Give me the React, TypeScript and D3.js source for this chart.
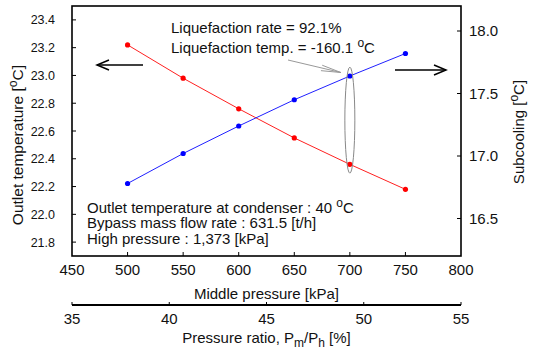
import React from "react";
import * as d3 from "d3";

const middlePressure = [500, 550, 600, 650, 700, 750];
const outletTemp = [23.22, 22.98, 22.76, 22.55, 22.36, 22.18];
const subcooling = [16.78, 17.02, 17.24, 17.45, 17.64, 17.82];
const xTicks = [450, 500, 550, 600, 650, 700, 750, 800];
const leftTicks = [21.8, 22.0, 22.2, 22.4, 22.6, 22.8, 23.0, 23.2, 23.4];
const rightTicks = [16.5, 17.0, 17.5, 18.0];
const ratioTicks = [35, 40, 45, 50, 55];

const W = 536, H = 351;
const L = 72, R = 461, T = 6, B = 256;
const FONT = "'Liberation Sans', Arial, sans-serif";

export default function App() {
  const x = d3.scaleLinear().domain([450, 800]).range([L, R]);
  const yL = d3.scaleLinear().domain([21.7, 23.5]).range([B, T]);
  const yR = d3.scaleLinear().domain([16.2, 18.2]).range([B, T]);
  const xr = d3.scaleLinear().domain([35, 55]).range([L, R]);

  const lineL = d3.line<number>().x((_, i) => x(middlePressure[i])).y((d) => yL(d));
  const lineR = d3.line<number>().x((_, i) => x(middlePressure[i])).y((d) => yR(d));

  // superscript "o" followed by "C" and rest
  const degC = (size: number, rest: string) => (
    <>
      <tspan dy={-size * 0.4} fontSize={size * 0.8}>o</tspan>
      <tspan dy={size * 0.4}>{"C" + rest}</tspan>
    </>
  );

  const ex = x(700);
  const ellipseCy = (yR(17.64) + yL(22.36)) / 2;

  // pointer arrow
  const p0 = [288, 60];
  const tip = [ex - 9, 72.5];
  const ang = Math.atan2(tip[1] - p0[1], tip[0] - p0[0]);
  const hl = 20, ha = (8 * Math.PI) / 180;
  const h1 = [tip[0] - hl * Math.cos(ang + ha), tip[1] - hl * Math.sin(ang + ha)];
  const h2 = [tip[0] - hl * Math.cos(ang - ha), tip[1] - hl * Math.sin(ang - ha)];

  return (
    <svg width={W} height={H} style={{ position: "absolute", left: 0, top: 0, background: "#fff" }} fontFamily={FONT}>
      <rect x={0} y={0} width={W} height={H} fill="#fff" />
      {/* lines */}
      <path d={lineL(outletTemp) || ""} fill="none" stroke="#ff2020" strokeWidth={1} />
      <path d={lineR(subcooling) || ""} fill="none" stroke="#2020ff" strokeWidth={1} />
      {outletTemp.map((v, i) => (
        <circle key={"r" + i} cx={x(middlePressure[i])} cy={yL(v)} r={2.6} fill="#ff0000" />
      ))}
      {subcooling.map((v, i) => (
        <circle key={"b" + i} cx={x(middlePressure[i])} cy={yR(v)} r={2.6} fill="#0000ff" />
      ))}

      {/* frame */}
      <rect x={L} y={T} width={R - L} height={B - T} fill="none" stroke="#000" strokeWidth={1.6} />

      {/* ticks inward */}
      {xTicks.slice(1, -1).map((t) => (
        <line key={"xt" + t} x1={x(t)} x2={x(t)} y1={B} y2={B - 4} stroke="#000" strokeWidth={1} />
      ))}
      {leftTicks.map((t) => (
        <line key={"lt" + t} x1={L} x2={L + 4} y1={yL(t)} y2={yL(t)} stroke="#000" strokeWidth={1} />
      ))}
      {rightTicks.map((t) => (
        <line key={"rt" + t} x1={R} x2={R - 4} y1={yR(t)} y2={yR(t)} stroke="#000" strokeWidth={1} />
      ))}

      {/* tick labels */}
      {xTicks.map((t) => (
        <text key={"xl" + t} x={x(t)} y={275} fontSize={15} textAnchor="middle" fill="#111">{t}</text>
      ))}
      {leftTicks.map((t) => (
        <text key={"ll" + t} x={55} y={yL(t) + 4.5} fontSize={12.5} textAnchor="end" fill="#111">{t.toFixed(1)}</text>
      ))}
      {rightTicks.map((t) => (
        <text key={"rl" + t} x={469} y={yR(t) + 5} fontSize={15} textAnchor="start" fill="#111">{t.toFixed(1)}</text>
      ))}

      {/* axis titles */}
      <text x={266.5} y={299} fontSize={15} textAnchor="middle" fill="#111">Middle pressure [kPa]</text>
      <text transform="translate(23,145) rotate(-90)" fontSize={15.5} textAnchor="middle" fill="#111">
        Outlet temperature [{degC(15.5, "]")}
      </text>
      <text transform="translate(524,132) rotate(-90)" fontSize={15} textAnchor="middle" fill="#111">
        Subcooling [{degC(15, "]")}
      </text>

      {/* secondary axis */}
      <line x1={L} x2={R} y1={305} y2={305} stroke="#000" strokeWidth={2} />
      {ratioTicks.map((t) => (
        <line key={"st" + t} x1={xr(t)} x2={xr(t)} y1={305} y2={302} stroke="#000" strokeWidth={1} />
      ))}
      {ratioTicks.map((t) => (
        <text key={"sl" + t} x={xr(t)} y={324} fontSize={15} textAnchor="middle" fill="#111">{t}</text>
      ))}
      <text x={266.5} y={343} fontSize={15} textAnchor="middle" fill="#111">
        Pressure ratio, P<tspan dy={4} fontSize={12}>m</tspan><tspan dy={-4}>/P</tspan><tspan dy={4} fontSize={12}>h</tspan><tspan dy={-4}> [%]</tspan>
      </text>

      {/* annotations */}
      <text x={171} y={33} fontSize={15} fill="#111">Liquefaction rate = 92.1%</text>
      <text x={171} y={53} fontSize={15} fill="#111">Liquefaction temp. = -160.1 {degC(15, "")}</text>
      <text x={87} y={212.5} fontSize={15} fill="#111">Outlet temperature at condenser : 40 {degC(15, "")}</text>
      <text x={87} y={228} fontSize={15} fill="#111">Bypass mass flow rate : 631.5 [t/h]</text>
      <text x={87} y={243.5} fontSize={15} fill="#111">High pressure : 1,373 [kPa]</text>

      {/* ellipse and pointer */}
      <ellipse cx={ex} cy={ellipseCy} rx={5} ry={53} fill="none" stroke="#888" strokeWidth={1} />
      <line x1={p0[0]} y1={p0[1]} x2={tip[0]} y2={tip[1]} stroke="#999" strokeWidth={1} />
      <polyline points={`${h1[0]},${h1[1]} ${tip[0]},${tip[1]} ${h2[0]},${h2[1]}`} fill="none" stroke="#999" strokeWidth={1} />

      {/* direction arrows */}
      <line x1={143} y1={65} x2={97} y2={65} stroke="#000" strokeWidth={1.5} />
      <polyline points="109,60 97,65 109,70" fill="none" stroke="#000" strokeWidth={1.5} />
      <line x1={395} y1={70} x2={446} y2={70} stroke="#000" strokeWidth={1.5} />
      <polyline points="434,65 446,70 434,75" fill="none" stroke="#000" strokeWidth={1.5} />
    </svg>
  );
}
